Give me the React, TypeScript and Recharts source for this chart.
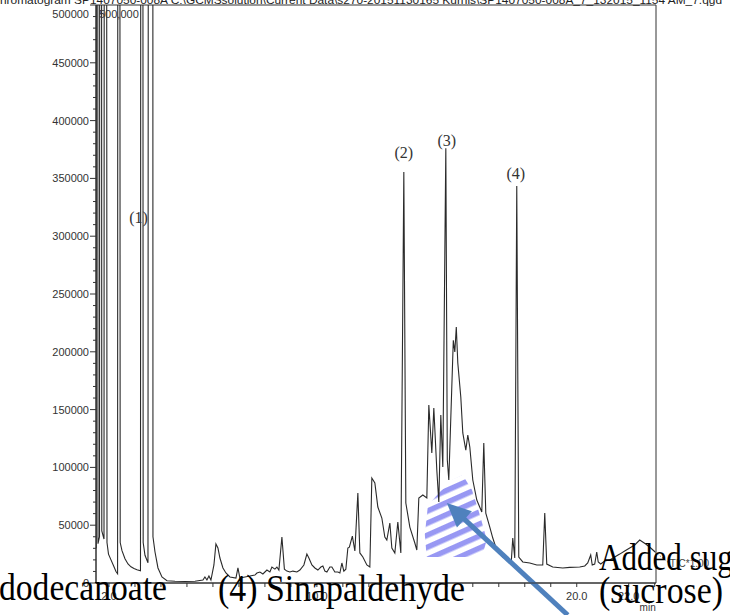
import React from 'react';
import { LineChart, Line, XAxis, YAxis, ReferenceArea, ReferenceLine, ReferenceDot } from 'recharts';

// Retention time (min)
const retentionTimeMin = [
  1.508, 1.531, 1.577, 1.635, 1.673, 1.723, 1.808, 1.854, 1.923, 1.981,
  2.077, 2.192, 2.269, 2.331, 2.369, 2.431, 2.5, 2.615, 2.731, 2.846,
  2.962, 3.077, 3.212, 3.262, 3.315, 3.385, 3.5, 3.562, 3.669, 3.692,
  3.769, 3.885, 4.038, 4.231, 4.538, 4.923, 5.308, 5.615, 5.692, 5.769,
  5.846, 5.923, 6.038, 6.115, 6.192, 6.269, 6.385, 6.5, 6.654, 6.885,
  6.962, 7.038, 7.231, 7.423, 7.615, 7.692, 7.808, 7.923, 8.077, 8.192,
  8.269, 8.385, 8.462, 8.538, 8.654, 8.75, 8.846, 8.962, 9.077, 9.231,
  9.346, 9.5, 9.615, 9.692, 9.808, 9.923, 10.038, 10.154, 10.231, 10.308,
  10.385, 10.5, 10.577, 10.692, 10.808, 10.885, 10.962, 11.038, 11.115, 11.192,
  11.25, 11.365, 11.462, 11.577, 11.654, 11.769, 11.923, 12.038, 12.115, 12.231,
  12.346, 12.5, 12.615, 12.692, 12.808, 12.885, 13.0, 13.115, 13.231, 13.346,
  13.423, 13.577, 13.769, 13.846, 13.923, 14.077, 14.231, 14.308, 14.423, 14.5,
  14.615, 14.692, 14.769, 14.846, 14.962, 15.019, 15.077, 15.192, 15.25, 15.308,
  15.365, 15.423, 15.538, 15.615, 15.731, 15.808, 15.885, 16.0, 16.154, 16.346,
  16.423, 16.5, 16.654, 16.769, 16.923, 17.154, 17.346, 17.481, 17.538, 17.615,
  17.692, 17.769, 17.923, 18.192, 18.462, 18.692, 18.769, 18.846, 19.077, 19.462,
  19.731, 20.115, 20.308, 20.423, 20.538, 20.596, 20.692, 20.769, 20.827, 20.923,
  21.077, 21.269, 21.462, 21.654, 21.846, 22.038, 22.231, 22.423, 22.654, 22.846,
  23.019,
];

// Total ion current (counts); off-scale peaks run far past the 500000 frame
const ticIntensity = [
  30000, 3000000, 34000, 40000, 3000000, 45000, 38000, 3000000, 35000, 25000,
  20000, 14000, 10000, 8000, 3000000, 35000, 28000, 21000, 16500, 14000,
  12500, 11500, 10500, 3000000, 35000, 24000, 17500, 3000000, 3000000, 40000,
  27000, 13000, 5200, 2000, 1500, 1300, 1500, 2500, 5200, 2600,
  6000, 2600, 15600, 33700, 30300, 21600, 13000, 8650, 5200, 4300,
  13000, 4300, 5200, 6000, 6900, 8600, 9500, 7800, 11200, 9500,
  13800, 12000, 13800, 11200, 39800, 12000, 10300, 9500, 10300, 9500,
  11200, 15600, 25000, 21600, 15600, 13000, 11200, 13800, 14700, 10300,
  9500, 13800, 13800, 9500, 9500, 8650, 17300, 10300, 12000, 30300,
  31000, 40500, 27700, 77900, 26000, 22500, 15600, 13800, 90800, 86500,
  65700, 56200, 39800, 37200, 51900, 30300, 26000, 52800, 26000, 355500,
  69200, 48400, 34600, 28500, 73500, 76100, 73500, 154000, 112500, 151400,
  97700, 70000, 145300, 100300, 376000, 106400, 89100, 169500, 210000, 199800,
  221400, 190300, 160900, 129800, 115000, 128000, 117600, 89100, 71800, 61400,
  121100, 60500, 48400, 38900, 28500, 22500, 19900, 18500, 38900, 21600,
  343400, 22500, 18200, 17300, 15600, 15600, 60500, 16400, 13800, 13000,
  13500, 13800, 14700, 17300, 24200, 15600, 16400, 26800, 18200, 16400,
  19000, 19900, 22500, 25000, 27700, 30300, 32900, 37200, 33700, 30300,
  26800,
];

const yTickValues = [
  0, 10000, 20000, 30000, 40000, 50000, 60000, 70000, 80000, 90000,
  100000, 110000, 120000, 130000, 140000, 150000, 160000, 170000, 180000, 190000,
  200000, 210000, 220000, 230000, 240000, 250000, 260000, 270000, 280000, 290000,
  300000, 310000, 320000, 330000, 340000, 350000, 360000, 370000, 380000, 390000,
  400000, 410000, 420000, 430000, 440000, 450000, 460000, 470000, 480000, 490000,
  500000,
];
const yLabelledValues = [0, 50000, 100000, 150000, 200000, 250000, 300000, 350000, 400000, 450000, 500000];

const xTickValues = [2, 3, 4, 5, 6, 7, 8, 9, 10, 11, 12, 13, 14, 15, 16, 17, 18, 19, 20, 21, 22, 23];
const xLabelledValues = [2, 10, 20, 22];

const peakNames = ['(1)', '(2)', '(3)', '(4)'];
const peakNameTimes = [3.135, 13.346, 15.0, 17.654];
const peakNameLevels = [316600, 372800, 383200, 354650];

const titleText =
  'hromatogram SP1407050-008A C:\\GCMSsolution\\Current Data\\s270-20151130165 Kurnis\\SP1407050-008A_7_132015_1154 AM_7.qgd';

const rows = retentionTimeMin.map((t, i) => ({ t, tic: ticIntensity[i] }));

const AXIS_FONT = '"Liberation Sans", Arial, sans-serif';
const SERIF = '"Liberation Serif", "Times New Roman", serif';

const YTick = (props: any) => {
  const { x, y, payload } = props;
  const v = payload.value as number;
  const major = yLabelledValues.includes(v);
  return (
    <g>
      <line x1={x - (major ? 6 : 3)} y1={y} x2={x} y2={y} stroke="#333" strokeWidth={1} />
      {major && (
        <text
          x={x - 7}
          y={v === 500000 ? y + 9 : y}
          textAnchor="end"
          dominantBaseline="central"
          fontFamily={AXIS_FONT}
          fontSize={11}
          fill="#333"
        >
          {v}
        </text>
      )}
    </g>
  );
};

const XTick = (props: any) => {
  const { x, y, payload } = props;
  const v = payload.value as number;
  const labelled = xLabelledValues.includes(v);
  return (
    <g>
      <line x1={x} y1={y} x2={x} y2={y + 4} stroke="#333" strokeWidth={1} />
      {labelled && (
        <text x={x} y={y + 17} textAnchor="middle" fontFamily={AXIS_FONT} fontSize={11} fill="#333">
          {v.toFixed(1)}
        </text>
      )}
    </g>
  );
};

const hatchOutline = [
  [0.61, 0], [0.76, 0.18], [0.89, 0.49], [1.0, 0.79], [0.94, 0.95], [0.76, 1],
  [0.03, 1], [0, 0.73], [0.05, 0.37], [0.24, 0.21], [0.44, 0.06],
];

const HatchShape = (props: any) => {
  const { x, y, width, height } = props;
  const pts = hatchOutline.map(([fx, fy]) => `${x + fx * width},${y + fy * height}`).join(' ');
  return (
    <g>
      <defs>
        <pattern id="sugarHatch" patternUnits="userSpaceOnUse" width="11" height="11" patternTransform="rotate(-24)">
          <rect x="0" y="0" width="11" height="5.5" fill="#8c8cf2" />
        </pattern>
      </defs>
      <polygon points={pts} fill="url(#sugarHatch)" opacity={0.9} />
    </g>
  );
};

const ArrowShape = (props: any) => {
  const { x1, y1, x2, y2 } = props;
  const dx = x2 - x1;
  const dy = y2 - y1;
  const len = Math.sqrt(dx * dx + dy * dy) || 1;
  const ux = dx / len;
  const uy = dy / len;
  const headLen = 24;
  const headHalf = 11;
  const bx = x2 - ux * headLen;
  const by = y2 - uy * headLen;
  const px = -uy;
  const py = ux;
  const head = `${x2},${y2} ${bx + px * headHalf},${by + py * headHalf} ${bx - px * headHalf},${by - py * headHalf}`;
  return (
    <g>
      <line x1={x1} y1={y1} x2={bx + ux * 2} y2={by + uy * 2} stroke="#4f81bd" strokeWidth={5} />
      <polygon points={head} fill="#4f81bd" />
    </g>
  );
};

export default function App() {
  return (
    <div style={{ position: 'absolute', left: 0, top: 0, width: 730, height: 615, background: '#fff' }}>
      <LineChart width={730} height={615} data={rows} margin={{ top: 5, right: 74, bottom: 0, left: 0 }}>
        <XAxis
          dataKey="t"
          type="number"
          domain={[1.5, 23.05]}
          allowDataOverflow
          ticks={xTickValues}
          interval={0}
          tickSize={0}
          tickMargin={0}
          tickLine={false}
          tick={<XTick />}
          axisLine={{ stroke: '#333' }}
          height={32}
        />
        <YAxis
          type="number"
          domain={[0, 500000]}
          allowDataOverflow
          ticks={yTickValues}
          interval={0}
          tickSize={0}
          tickMargin={0}
          tickLine={false}
          tick={<YTick />}
          axisLine={{ stroke: '#333' }}
          width={96}
        />
        <ReferenceArea x1={1.5} x2={23.05} y1={0} y2={500000} fill="none" stroke="#333" strokeWidth={1} />
        <ReferenceArea x1={14.154} x2={16.538} y1={22500} y2={93400} ifOverflow="visible" shape={<HatchShape />} />
        <Line
          type="linear"
          dataKey="tic"
          stroke="#2a2a2a"
          strokeWidth={1.1}
          dot={false}
          isAnimationActive={false}
        />
        {peakNames.map((name, i) => (
          <ReferenceDot
            key={name}
            x={peakNameTimes[i]}
            y={peakNameLevels[i]}
            r={0}
            ifOverflow="visible"
            shape={(p: any) => (
              <text x={p.cx} y={p.cy} textAnchor="middle" dominantBaseline="central" fontFamily={SERIF} fontSize={16} fill="#333">
                {name}
              </text>
            )}
          />
        ))}
        <ReferenceLine
          segment={[{ x: 23.019, y: 26800 }, { x: 23.5, y: 18200 }]}
          ifOverflow="visible"
          stroke="#555"
          strokeDasharray="1 2"
        />
        <ReferenceDot
          x={23.577}
          y={17300}
          r={0}
          ifOverflow="visible"
          shape={(p: any) => (
            <text x={p.cx} y={p.cy} textAnchor="start" dominantBaseline="central" fontFamily={AXIS_FONT} fontSize={10} fill="#444">
              TIC*1.00
            </text>
          )}
        />
        <ReferenceDot
          x={22.73}
          y={-21600}
          r={0}
          ifOverflow="visible"
          shape={(p: any) => (
            <text x={p.cx} y={p.cy} textAnchor="middle" dominantBaseline="central" fontFamily={AXIS_FONT} fontSize={10} fill="#333">
              min
            </text>
          )}
        />
        <ReferenceLine
          segment={[{ x: 19.654, y: -27700 }, { x: 15.0, y: 69200 }]}
          ifOverflow="visible"
          shape={<ArrowShape />}
        />
      </LineChart>
      <svg width={730} height={615} style={{ position: 'absolute', left: 0, top: 0, pointerEvents: 'none' }}>
        <text x={0} y={4} fontFamily={AXIS_FONT} fontSize={11} fill="#222" textLength={722} lengthAdjust="spacingAndGlyphs">
          {titleText}
        </text>
        <text x={99} y={14} dominantBaseline="central" fontFamily={AXIS_FONT} fontSize={11} fill="#333">
          500,000
        </text>
        <text x={-1} y={600} fontFamily={SERIF} fontSize={38} fill="#000" textLength={168} lengthAdjust="spacingAndGlyphs">
          dodecanoate
        </text>
        <text x={218} y={601} fontFamily={SERIF} fontSize={38} fill="#000" textLength={247} lengthAdjust="spacingAndGlyphs">
          (4) Sinapaldehyde
        </text>
        <text x={599} y={570} fontFamily={SERIF} fontSize={38} fill="#000" textLength={158} lengthAdjust="spacingAndGlyphs">
          Added sugar
        </text>
        <text x={599} y={603} fontFamily={SERIF} fontSize={38} fill="#000" textLength={124} lengthAdjust="spacingAndGlyphs">
          (sucrose)
        </text>
      </svg>
    </div>
  );
}
